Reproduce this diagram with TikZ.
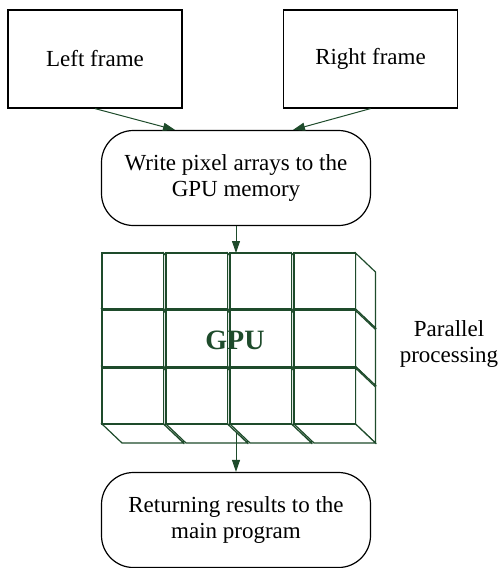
\documentclass[tikz,border=0pt]{standalone}
\usepackage{fontspec}
\setmainfont{Liberation Serif}
\usetikzlibrary{arrows.meta,calc}
\definecolor{gpugreen}{HTML}{1E4B2B}
\begin{document}
\begin{tikzpicture}[x=1pt,y=-1pt,
  frame/.style={draw=black,line width=1.2pt,minimum width=174pt,minimum height=98pt,
    inner sep=0pt,font=\fontsize{23}{26}\selectfont},
  stage/.style={draw=black,line width=1.2pt,rounded corners=32pt,minimum width=269pt,
    minimum height=95pt,inner sep=0pt,align=center,font=\fontsize{23}{26}\selectfont},
  flow/.style={draw=gpugreen,line width=1pt,-{Triangle[length=12pt,width=8pt]}},
  cubeline/.style={draw=gpugreen,line width=1.2pt,fill=white,line join=miter},
  note/.style={align=center,inner sep=0pt,font=\fontsize{23}{26}\selectfont}
]
\useasboundingbox (0,0) rectangle (500,568);

% input frames
\node[frame] (left)  at (95,59)    {Left frame};
\node[frame] (right) at (370.5,59) {Right frame};

% upload stage
\node[stage] (write) at (236,178) {Write pixel arrays to the\\GPU memory};

% block of processing cubes (front face, right face, bottom face)
\foreach \j in {0,1,2} {
  \foreach \i in {0,1,2,3} {
    \pgfmathsetmacro\xa{102+64*\i}
    \pgfmathsetmacro\ya{253+57.5*\j}
    \pgfmathsetmacro\xb{\xa+61.5}
    \pgfmathsetmacro\yb{\ya+56}
    \draw[cubeline] (\xb,\ya) -- ++(20,19) -- ++(0,56) -- (\xb,\yb) -- cycle;
    \draw[cubeline] (\xa,\yb) -- (\xb,\yb) -- ++(20,19) -- ($(\xa,\yb)+(20,19)$) -- cycle;
    \draw[cubeline] (\xa,\ya) rectangle (\xb,\yb);
  }
}
\node[font=\fontsize{28}{30}\selectfont\bfseries,text=gpugreen,inner sep=0pt] (gpu) at (235,340) {GPU};
\node[note] (par) at (449,344) {Parallel\\processing};

% result stage
\node[stage] (ret) at (236,520) {Returning results to the\\main program};

% connectors
\coordinate (inL) at ($(write.north)+(-61,0)$);
\coordinate (inR) at ($(write.north)+(57,0)$);
\coordinate (gtop) at (236,253);
\coordinate (gbot) at (236,432);
\draw[flow] (left.south) -- (inL);
\draw[flow] (right.south) -- (inR);
\draw[flow] (write.south) -- (gtop);
\draw[flow] (gbot) -- (ret.north);
\end{tikzpicture}
\end{document}
